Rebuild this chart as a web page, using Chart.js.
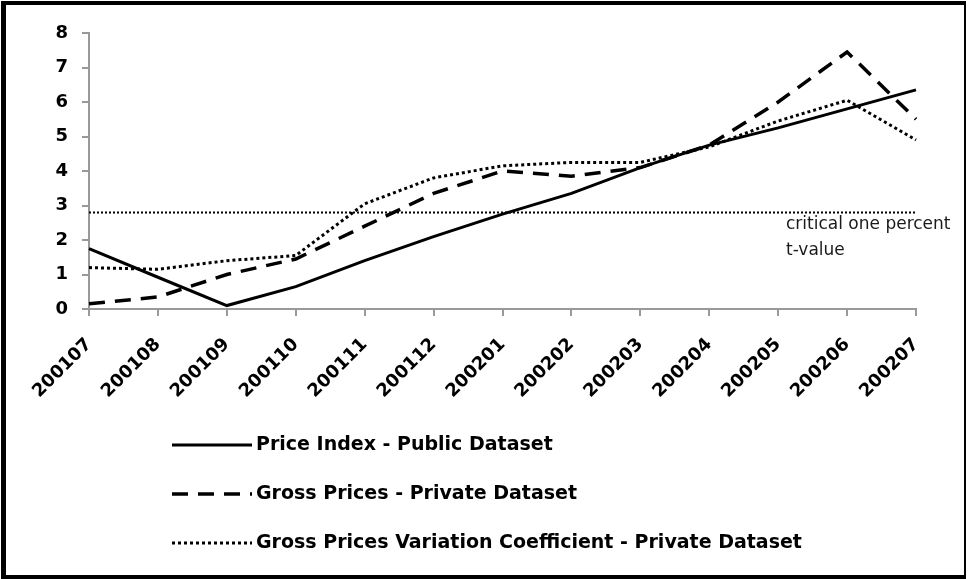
<!DOCTYPE html>
<html>
<head>
<meta charset="utf-8">
<script src="https://cdn.jsdelivr.net/npm/chart.js@4"></script>
<style>
  body { margin: 0; background: #fff; }
</style>
</head>
<body>
<canvas id="priceChart" width="968" height="579"></canvas>
<script>
// data
const months = ['200107', '200108', '200109', '200110', '200111', '200112', '200201',
                '200202', '200203', '200204', '200205', '200206', '200207'];
const priceIndex   = [1.75, 0.92, 0.1, 0.65, 1.4, 2.1, 2.75, 3.35, 4.1, 4.75, 5.25, 5.8, 6.35];
const grossPrices  = [0.15, 0.35, 1.0, 1.45, 2.4, 3.35, 4.0, 3.85, 4.1, 4.75, 6.0, 7.45, 5.5];
const grossVarCoef = [1.2, 1.15, 1.4, 1.55, 3.05, 3.8, 4.15, 4.25, 4.25, 4.7, 5.45, 6.05, 4.9];
const criticalT    = [2.8, 2.8, 2.8, 2.8, 2.8, 2.8, 2.8, 2.8, 2.8, 2.8, 2.8, 2.8, 2.8];
const seriesNames  = ['Price Index - Public Dataset',
                      'Gross Prices - Private Dataset',
                      'Gross Prices Variation Coefficient - Private Dataset'];
const criticalText = ['critical one percent', 't-value'];
const yMin = 0;
const yMax = 8;

const tickFont = { family: 'DejaVu Sans', size: 18, weight: 'bold' };
const axisGray = '#999999';

// legend, label for the critical line and the outer frame
const extras = {
    id: 'extras',
    afterDraw(chart) {
        const c = chart.ctx;
        const xs = chart.scales.x;
        const ys = chart.scales.y;
        c.save();

        // critical value text
        c.fillStyle = '#1a1a1a';
        c.font = '17px "DejaVu Sans"';
        c.textAlign = 'left';
        c.textBaseline = 'alphabetic';
        const lx = xs.getPixelForValue(months.length - 1) - 130;
        const ly = ys.getPixelForValue(criticalT[0]);
        c.fillText(criticalText[0], lx, ly + 17);
        c.fillText(criticalText[1], lx, ly + 43);

        // legend (one item per row)
        c.font = 'bold 19px "DejaVu Sans"';
        c.textBaseline = 'middle';
        c.fillStyle = '#000';
        for (let i = 0; i < 3; i++) {
            const ds = chart.data.datasets[i];
            const ry = 445 + i * 49;
            c.beginPath();
            c.strokeStyle = ds.borderColor;
            c.lineWidth = ds.borderWidth;
            c.setLineDash(ds.borderDash || []);
            c.moveTo(172, ry);
            c.lineTo(252, ry);
            c.stroke();
            c.setLineDash([]);
            c.fillText(ds.label, 256, ry);
        }

        // frame
        c.fillStyle = '#000';
        c.fillRect(1, 1, 965, 4);
        c.fillRect(1, 1, 5, 578);
        c.fillRect(1, 575, 965, 4);
        c.fillRect(964, 1, 2, 578);
        c.restore();
    }
};

const ctx = document.getElementById('priceChart').getContext('2d');
const priceChart = new Chart(ctx, {
    type: 'line',
    data: {
        labels: months,
        datasets: [{
            label: seriesNames[0],
            data: priceIndex,
            borderColor: '#000',
            borderWidth: 3
        }, {
            label: seriesNames[1],
            data: grossPrices,
            borderColor: '#000',
            borderWidth: 3.5,
            borderDash: [16, 10]
        }, {
            label: seriesNames[2],
            data: grossVarCoef,
            borderColor: '#000',
            borderWidth: 3,
            borderDash: [3, 3]
        }, {
            label: 'critical',
            data: criticalT,
            borderColor: '#000',
            borderWidth: 2,
            borderDash: [2, 2]
        }]
    },
    options: {
        responsive: false,
        animation: false,
        elements: {
            point: { radius: 0, hoverRadius: 0 },
            line: { tension: 0, fill: false }
        },
        layout: {
            padding: { top: 33, right: 52, bottom: 170, left: 0 }
        },
        plugins: {
            legend: { display: false },
            tooltip: { enabled: false }
        },
        scales: {
            x: {
                grid: { drawOnChartArea: false, color: axisGray, lineWidth: 2, tickLength: 7 },
                border: { color: axisGray, width: 2 },
                ticks: { minRotation: 45, maxRotation: 45, color: '#000', font: tickFont, padding: 18 },
                afterFit(s) { s.height = 100; }
            },
            y: {
                min: yMin,
                max: yMax,
                grid: { drawOnChartArea: false, color: axisGray, lineWidth: 2, tickLength: 7 },
                border: { color: axisGray, width: 2 },
                ticks: { stepSize: 1, color: '#000', font: tickFont, padding: 14 },
                afterFit(s) { s.width = 89; }
            }
        }
    },
    plugins: [extras]
});
</script>
</body>
</html>
